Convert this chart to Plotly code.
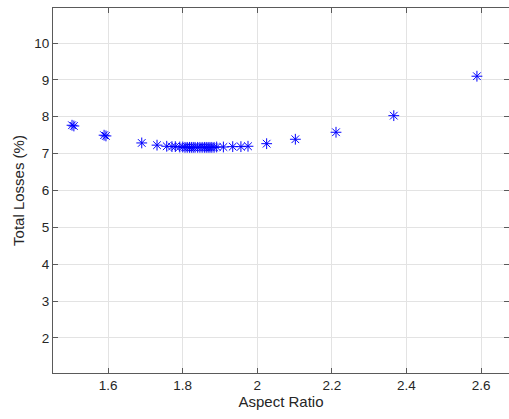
import plotly.graph_objects as go

aspect_ratio = [1.503, 1.508, 1.589, 1.594, 1.690, 1.731, 1.757, 1.771, 1.780,
                1.792, 1.800, 1.806, 1.812, 1.818, 1.823, 1.828, 1.833, 1.840,
                1.846, 1.852, 1.858, 1.863, 1.868, 1.873, 1.878, 1.884, 1.891,
                1.909, 1.934, 1.956, 1.975, 2.025, 2.102, 2.211, 2.366, 2.589]
total_losses = [7.77, 7.75, 7.50, 7.48, 7.29, 7.23, 7.20, 7.19, 7.19,
                7.18, 7.18, 7.17, 7.17, 7.17, 7.17, 7.17, 7.17, 7.17,
                7.17, 7.17, 7.17, 7.17, 7.17, 7.17, 7.17, 7.17, 7.18,
                7.18, 7.19, 7.19, 7.20, 7.27, 7.39, 7.58, 8.03, 9.10]

x_ticks = [1.6, 1.8, 2.0, 2.2, 2.4, 2.6]
x_tick_text = ["1.6", "1.8", "2", "2.2", "2.4", "2.6"]
y_ticks = [2, 3, 4, 5, 6, 7, 8, 9, 10]

fig = go.Figure(go.Scatter(
    x=aspect_ratio, y=total_losses, mode="markers",
    marker=dict(symbol="asterisk-open", size=9, color="#0000ff",
                line=dict(color="#0000ff", width=1)),
    showlegend=False,
))

axis_common = dict(
    showgrid=True, gridcolor="#e3e3e3", gridwidth=1,
    showline=True, linecolor="#5a5a5a", linewidth=1, mirror="ticks",
    ticks="inside", ticklen=5, tickcolor="#5a5a5a", tickwidth=1,
    zeroline=False,
    tickfont=dict(family="Liberation Sans, Arial", size=13.5, color="#262626"),
)

fig.update_xaxes(range=[1.452, 2.675], tickvals=x_ticks, ticktext=x_tick_text,
                 title=dict(text="Aspect Ratio", standoff=2,
                            font=dict(family="Liberation Sans, Arial", size=15, color="#262626")),
                 **axis_common)
fig.update_yaxes(range=[1.05, 10.95], tickvals=y_ticks,
                 title=dict(text="Total Losses (%)", standoff=6,
                            font=dict(family="Liberation Sans, Arial", size=15, color="#262626")),
                 **axis_common)

fig.update_layout(
    width=509, height=419,
    margin=dict(l=53, r=0, t=8, b=46),
    paper_bgcolor="white", plot_bgcolor="white",
)

fig.write_html("out.html")
